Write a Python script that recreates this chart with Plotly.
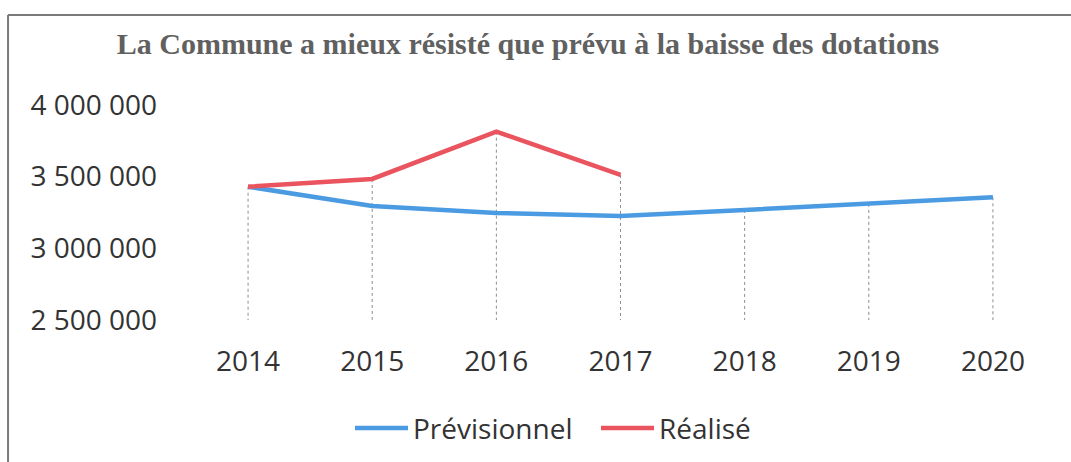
import plotly.graph_objects as go

years = ["2014", "2015", "2016", "2017", "2018", "2019", "2020"]
previsionnel = [3430000, 3296000, 3247000, 3226000, 3268000, 3310000, 3356000]
realise = [3430000, 3484000, 3814000, 3512000, None, None, None]
y_ticks = [2500000, 3000000, 3500000, 4000000]
y_tick_labels = ["2 500 000", "3 000 000", "3 500 000", "4 000 000"]
title_text = "La Commune a mieux résisté que prévu à la baisse des dotations"

Y_MIN, Y_MAX = 2500000, 4000000

# drop lines from highest point of each category down to the axis
drop_x, drop_y = [], []
for i, yr in enumerate(years):
    vals = [v for v in (previsionnel[i], realise[i]) if v is not None]
    drop_x += [yr, yr, None]
    drop_y += [max(vals), Y_MIN, None]

FONT = "Open Sans"
TXT = "#333333"

fig = go.Figure()
fig.add_trace(go.Scatter(x=drop_x, y=drop_y, mode="lines",
                         line=dict(color="#8c8c8c", width=1, dash="dot"),
                         showlegend=False, hoverinfo="skip"))
fig.add_trace(go.Scatter(x=years, y=previsionnel, mode="lines", name="Prévisionnel",
                         line=dict(color="#4b9be3", width=4.5)))
fig.add_trace(go.Scatter(x=years, y=realise, mode="lines", name="Réalisé",
                         line=dict(color="#e9545e", width=4.5)))

fig.update_layout(
    width=1071, height=462,
    margin=dict(l=186, r=16, t=105, b=142),
    paper_bgcolor="white", plot_bgcolor="white",
    title=dict(text=title_text, x=0.493, xref="container", xanchor="center",
               y=0.905, yref="container", yanchor="middle",
               font=dict(family="Liberation Serif", size=30, color="#606060", weight="bold")),
    showlegend=True,
    legend=dict(orientation="h", x=350 / 1071, xref="container", xanchor="left",
                y=0.073, yref="container", yanchor="middle",
                font=dict(family=FONT, size=28, color=TXT), itemwidth=53,
                entrywidth=178, entrywidthmode="pixels"),
    font=dict(family=FONT, size=28, color=TXT),
)
fig.update_xaxes(type="category", range=[-0.5, 6.5], showgrid=False, showline=False,
                 zeroline=False, ticks="", ticklabelstandoff=22,
                 tickfont=dict(family=FONT, size=28, color=TXT))
fig.update_yaxes(range=[Y_MIN, Y_MAX], tickvals=y_ticks, ticktext=y_tick_labels,
                 showgrid=False, showline=False, zeroline=False, ticks="",
                 ticklabelstandoff=28,
                 tickfont=dict(family=FONT, size=28, color=TXT))

# outer frame (left and top edges visible in reference)
fig.add_shape(type="line", xref="paper", yref="paper",
              x0=-0.2048, x1=-0.2048, y0=1.4186, y1=-0.70,
              line=dict(color="#7a7a7a", width=2))
fig.add_shape(type="line", xref="paper", yref="paper",
              x0=-0.2048, x1=1.03, y0=1.4186, y1=1.4186,
              line=dict(color="#7a7a7a", width=2))

fig.write_html("out.html", config={"displayModeBar": False},
               post_script="document.body.style.margin='0';document.body.style.overflow='hidden';")
